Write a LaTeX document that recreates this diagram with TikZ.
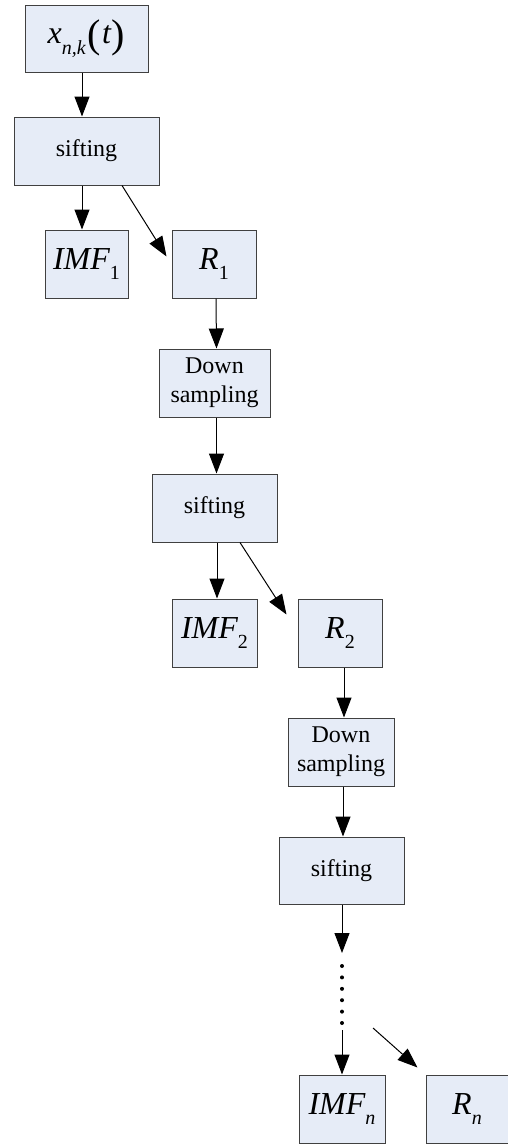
\documentclass[tikz,border=0pt]{standalone}
\usepackage{fontspec}
\setmainfont{Liberation Serif}
\usetikzlibrary{arrows.meta}
\definecolor{boxfill}{HTML}{E6ECF7}
\definecolor{boxline}{HTML}{404040}
\newcommand{\mysub}[1]{\raisebox{-0.3em}{\fontsize{20}{20}\selectfont #1}}
\newcommand{\bigpar}[1]{\raisebox{-0.12em}{\fontsize{40}{40}\selectfont\upshape #1}}
\begin{document}
\begin{tikzpicture}[x=1pt,y=-1pt,
  box/.style={draw=boxline, fill=boxfill, line width=1pt, inner sep=0pt, anchor=center},
  arr/.style={-{Triangle[length=20pt,width=15pt]}, line width=1pt},
  txt/.style={font=\fontsize{24}{29}\selectfont, align=center},
  mth/.style={font=\fontsize{32}{36}\selectfont}]
\useasboundingbox (0,0) rectangle (508,1144);
\node[box, mth, minimum width=123pt, minimum height=67pt] (x) at (86.5,38.5)
  {\itshape x\raisebox{-0.35em}{\fontsize{20}{20}\selectfont\itshape n,k}\hspace{2pt}\bigpar{(}\hspace{1pt}t\hspace{1pt}\bigpar{)}};
\node[box, txt, minimum width=145pt, minimum height=68pt] (s1) at (86.5,151) {sifting};
\node[box, mth, minimum width=83pt, minimum height=68pt] (imf1) at (86.5,264) {\itshape IMF\mysub{\upshape 1}};
\node[box, mth, minimum width=84pt, minimum height=68pt] (r1) at (214,264) {\itshape R\mysub{\upshape 1}};
\node[box, txt, minimum width=111pt, minimum height=68pt] (d1) at (214.5,383) {Down\\sampling};
\node[box, txt, minimum width=125pt, minimum height=68pt] (s2) at (214.5,508) {sifting};
\node[box, mth, minimum width=85pt, minimum height=68pt] (imf2) at (214.5,633) {\itshape IMF\mysub{\upshape 2}};
\node[box, mth, minimum width=84pt, minimum height=68pt] (r2) at (340,633) {\itshape R\mysub{\upshape 2}};
\node[box, txt, minimum width=106pt, minimum height=68pt] (d2) at (341,752) {Down\\sampling};
\node[box, txt, minimum width=125pt, minimum height=67pt] (s3) at (341.5,870.5) {sifting};
\node[box, mth, minimum width=86pt, minimum height=68pt] (imfn) at (342,1109) {\itshape IMF\mysub{\itshape n}};
\node[box, mth, minimum width=82pt, minimum height=68pt] (rn) at (467,1109) {\itshape R\mysub{\itshape n}};

\coordinate (dtip) at (342,953);
\coordinate (dend) at (342,1030);
\coordinate (dstart) at (373,1028);

\draw[arr] ([xshift=-4.5pt]x.south) -- ([xshift=-4.5pt]s1.north);
\draw[arr] ([xshift=-4.5pt]s1.south) -- ([xshift=-4.5pt]imf1.north);
\draw[arr] ([xshift=35.5pt]s1.south) -- ([xshift=-5pt,yshift=-27pt]r1.north west);
\draw[arr] ([xshift=2pt]r1.south) -- ([xshift=2pt]d1.north);
\draw[arr] ([xshift=2pt]d1.south) -- ([xshift=2pt]s2.north);
\draw[arr] ([xshift=2.5pt]s2.south) -- ([xshift=2.5pt]imf2.north);
\draw[arr] ([xshift=25.5pt]s2.south) -- ([xshift=-11pt,yshift=-16pt]r2.north west);
\draw[arr] ([xshift=4pt]r2.south) -- ([xshift=3pt]d2.north);
\draw[arr] ([xshift=2pt]d2.south) -- ([xshift=1.5pt]s3.north);
\draw[arr] ([xshift=0.5pt]s3.south) -- (dtip);
\foreach \yy in {966,977.4,988.8,1000.2,1011.6,1023} \fill (342,\yy) circle (2pt);
\draw[arr] (dend) -- (imfn.north);
\draw[arr] (dstart) -- ([xshift=-8pt,yshift=7pt]rn.north west);
\end{tikzpicture}
\end{document}
